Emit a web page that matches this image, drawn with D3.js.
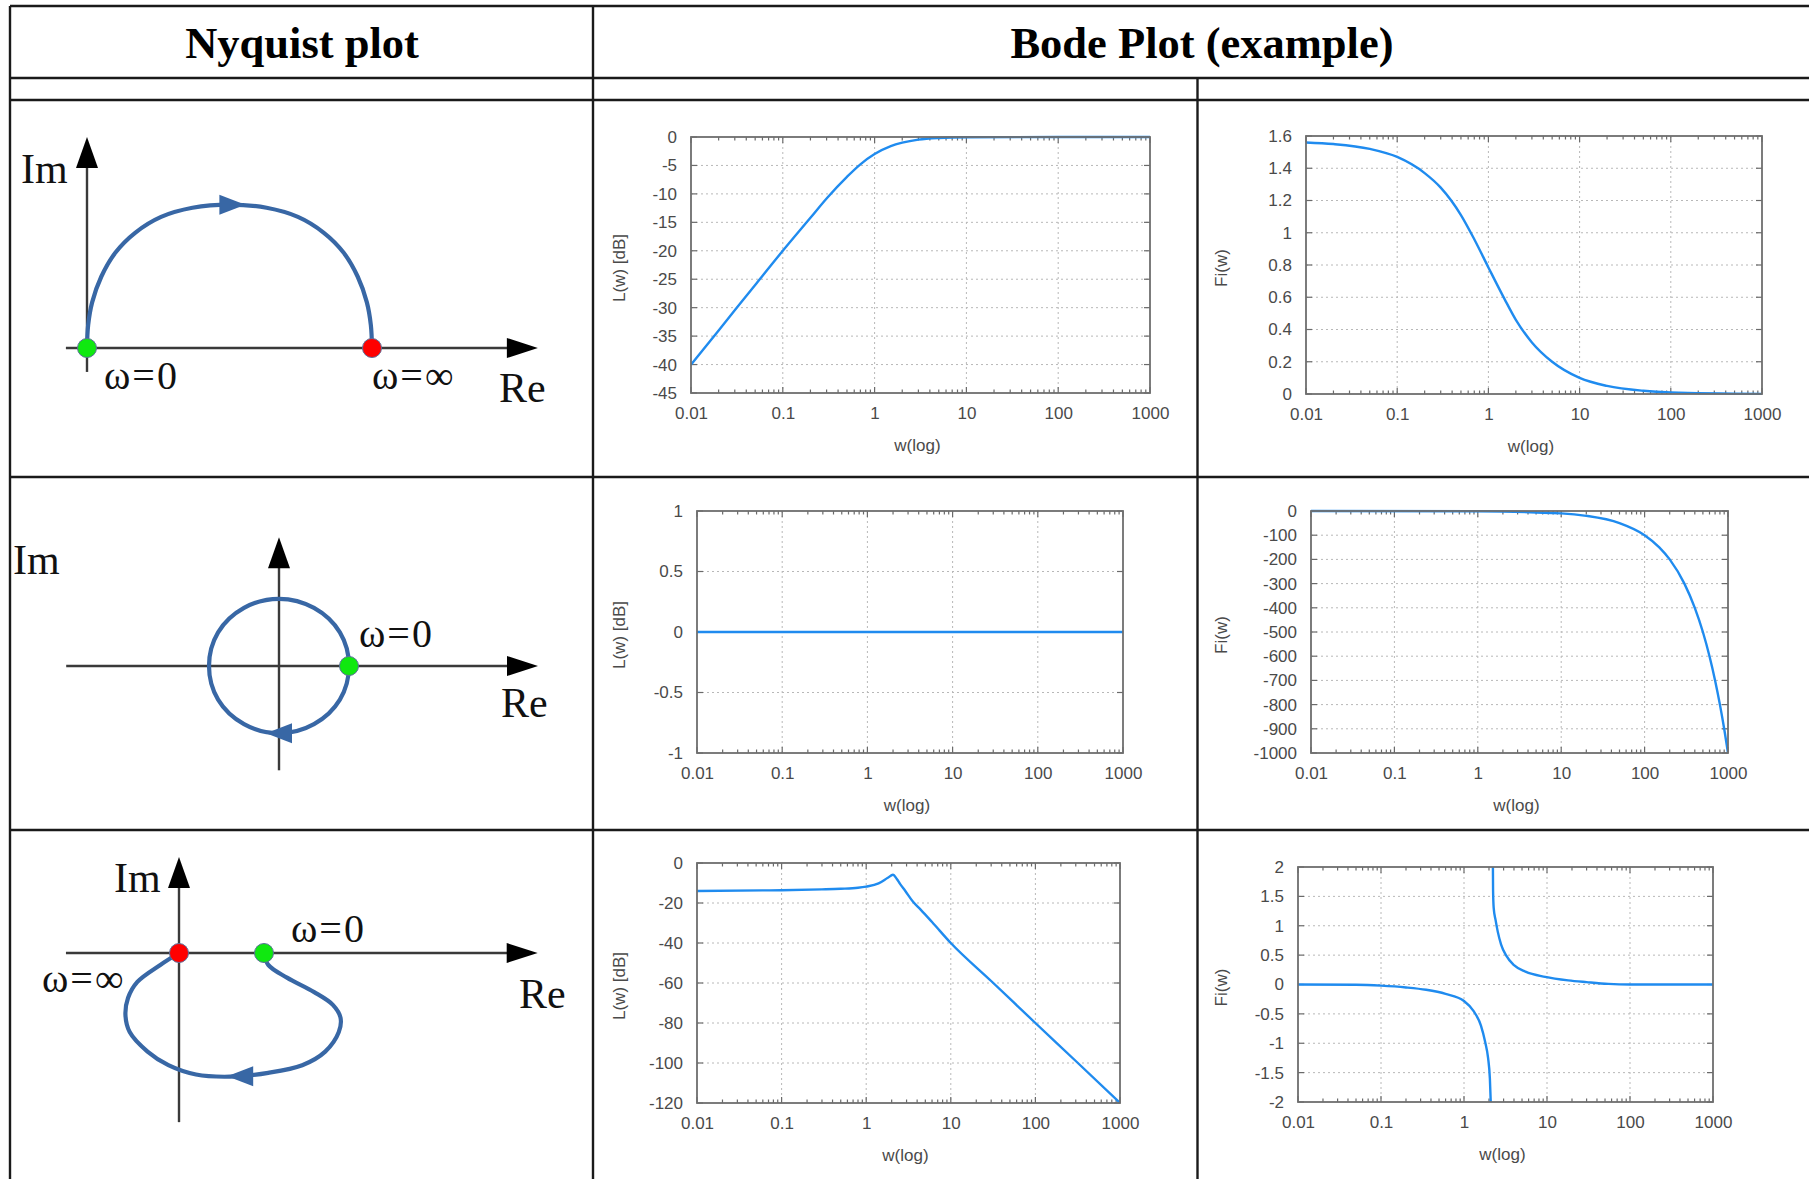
<!DOCTYPE html>
<html><head><meta charset="utf-8">
<script src="https://cdn.jsdelivr.net/npm/d3@7"></script>
<style>body{margin:0;background:#fff}svg{display:block}</style>
</head><body>
<script>
// ================= DATA =================
const headers = ["Nyquist plot", "Bode Plot (example)"];
const decadeTicks = [0.01, 0.1, 1, 10, 100, 1000];
const decadeLabels = ["0.01", "0.1", "1", "10", "100", "1000"];
const xTitle = "w(log)";
const gainTitle = "L(w) [dB]";
const phaseTitle = "Fi(w)";

// Nyquist curves (Re, Im)
const nyq1Re = [0, 0.004, 0.018, 0.05, 0.1, 0.17, 0.26, 0.37, 0.5, 0.63, 0.74, 0.83, 0.9, 0.95, 0.982, 0.996, 1];
const nyq1Im = [0, 0.08, 0.16, 0.25, 0.335, 0.405, 0.46, 0.492, 0.503, 0.492, 0.46, 0.405, 0.335, 0.25, 0.16, 0.08, 0];
const nyq2Re = [1, 0.87, 0.5, 0, -0.5, -0.87, -1, -0.87, -0.5, 0, 0.5, 0.87];
const nyq2Im = [0, -0.48, -0.83, -0.96, -0.83, -0.48, 0, 0.48, 0.83, 0.96, 0.83, 0.48];
const nyq3Re = [1, 1.05, 1.27, 1.59, 1.81, 1.9, 1.88, 1.72, 1.45, 1.05, 0.6, 0.2, -0.125, -0.37, -0.58, -0.63, -0.6, -0.49, -0.22, 0];
const nyq3Im = [0, -0.14, -0.29, -0.46, -0.61, -0.76, -0.93, -1.16, -1.32, -1.41, -1.455, -1.43, -1.32, -1.16, -0.93, -0.73, -0.53, -0.34, -0.14, 0];

// Bode row 1 (high-pass)
const hpGainW = [0.01, 0.02, 0.05, 0.1, 0.2, 0.3, 0.5, 0.7, 1, 1.5, 2, 3, 5, 10, 100, 1000];
const hpGain  = [-40, -34, -26, -20, -14.2, -10.8, -7, -4.8, -3, -1.6, -1, -0.46, -0.17, -0.04, 0, 0];
const hpPhaseW = [0.01, 0.02, 0.05, 0.1, 0.2, 0.3, 0.5, 0.7, 1, 1.5, 2, 3, 5, 10, 20, 50, 100, 1000];
const hpPhase  = [1.56, 1.55, 1.52, 1.47, 1.37, 1.28, 1.11, 0.96, 0.785, 0.59, 0.46, 0.32, 0.2, 0.1, 0.05, 0.02, 0.01, 0.001];

// Bode row 2 (delay)
const delayGainW = [0.01, 1000];
const delayGain  = [0, 0];
const delayPhaseW = [0.01, 1, 10, 20, 50, 100, 150, 200, 300, 400, 500, 600, 700, 800, 900, 1000];
const delayPhase  = [0, -1, -10, -20, -50, -100, -150, -200, -300, -400, -500, -600, -700, -800, -900, -1000];

// Bode row 3 (resonant)
const resGainW = [0.01, 0.06, 0.1, 0.3, 0.5, 0.8, 1, 1.4, 1.8, 2.07, 2.3, 2.5, 2.9, 3.6, 4.4, 6, 10, 30, 100, 300, 1000];
const resGain  = [-14, -13.7, -13.6, -13.2, -12.9, -12.4, -11.8, -10.2, -7.4, -5.9, -8, -10.3, -14, -19.5, -23.3, -29.5, -40, -59, -80, -99, -120];
const resPhaseWA = [0.01, 0.05, 0.1, 0.2, 0.35, 0.6, 1, 1.3, 1.6, 1.8, 1.95, 2.05, 2.1];
const resPhaseA  = [0, -0.005, -0.02, -0.05, -0.09, -0.16, -0.28, -0.45, -0.7, -0.98, -1.25, -1.6, -2];
const resPhaseWB = [2.23, 2.24, 2.28, 2.4, 2.55, 2.8, 3.2, 4, 5.5, 9.5, 18, 30, 55, 100, 1000];
const resPhaseB  = [2, 1.6, 1.3, 1.1, 0.9, 0.68, 0.5, 0.33, 0.22, 0.13, 0.07, 0.04, 0.01, 0, 0];

// Y ticks
const yTicks1 = [0, -5, -10, -15, -20, -25, -30, -35, -40, -45];
const yTicks2 = [0, 0.2, 0.4, 0.6, 0.8, 1, 1.2, 1.4, 1.6];
const yTicks3 = [-1, -0.5, 0, 0.5, 1];
const yTicks4 = [0, -100, -200, -300, -400, -500, -600, -700, -800, -900, -1000];
const yTicks5 = [0, -20, -40, -60, -80, -100, -120];
const yTicks6 = [-2, -1.5, -1, -0.5, 0, 0.5, 1, 1.5, 2];

// ================= DRAW =================
const W = 1809, H = 1179;
const svg = d3.select("body").append("svg").attr("width", W).attr("height", H);
svg.append("rect").attr("width", W).attr("height", H).attr("fill", "#fff");

// ---- table ----
const tbl = svg.append("g").attr("stroke", "#1a1a1a").attr("stroke-width", 2.4);
[6, 78, 100, 477, 830].forEach(yy => tbl.append("line").attr("x1", 10).attr("x2", W).attr("y1", yy).attr("y2", yy));
[[10, 6], [593, 6], [1197.5, 78]].forEach(([xx, y0]) => tbl.append("line").attr("x1", xx).attr("x2", xx).attr("y1", y0).attr("y2", H));

svg.selectAll("text.hdr").data(headers).join("text").attr("class", "hdr")
  .attr("x", (d, i) => i === 0 ? 302 : 1202).attr("y", 58)
  .attr("text-anchor", "middle").attr("font-family", "Liberation Serif").attr("font-weight", "bold")
  .attr("font-size", 44.5).attr("fill", "#000").text(d => d);

// ---- Nyquist panels ----
const curveColor = "#3867a5";
const serif = "Liberation Serif";
const nyqPanels = [
  { ox: 87, oy: 348, unit: 285, re: [-0.074, 1.582], im: [-0.084, 0.74],
    re_: nyq1Re, im_: nyq1Im, closed: false,
    arrow: { re: 0.51, im: 0.503, dir: 0 },
    dots: [{ re: 0, im: 0, c: "#10e810" }, { re: 1, im: 0, c: "#f00" }],
    labels: [{ t: "Im", x: 21, y: 183, s: 42 }, { t: "ω=0", x: 104, y: 389, s: 40 },
             { t: "ω=∞", x: 372, y: 389, s: 40 }, { t: "Re", x: 499, y: 402, s: 42 }] },
  { ox: 279, oy: 666, unit: 70, re: [-3.04, 3.7], im: [-1.49, 1.84],
    re_: nyq2Re, im_: nyq2Im, closed: true,
    arrow: { re: 0, im: -0.96, dir: 180 },
    dots: [{ re: 1, im: 0, c: "#10e810" }],
    labels: [{ t: "Im", x: 13, y: 574, s: 42 }, { t: "ω=0", x: 359, y: 647, s: 40 },
             { t: "Re", x: 501, y: 717, s: 42 }] },
  { ox: 179, oy: 953, unit: 85, re: [-1.33, 4.22], im: [-1.99, 1.13],
    re_: nyq3Re, im_: nyq3Im, closed: false,
    arrow: { re: 0.72, im: -1.45, dir: 180 },
    dots: [{ re: 0, im: 0, c: "#f00" }, { re: 1, im: 0, c: "#10e810" }],
    labels: [{ t: "Im", x: 114, y: 892, s: 42 }, { t: "ω=0", x: 291, y: 942, s: 40 },
             { t: "ω=∞", x: 42, y: 992, s: 40 }, { t: "Re", x: 519, y: 1008, s: 42 }] }
];

nyqPanels.forEach(p => {
  const g = svg.append("g");
  const x = d3.scaleLinear().domain([0, 1]).range([p.ox, p.ox + p.unit]);
  const y = d3.scaleLinear().domain([0, 1]).range([p.oy, p.oy - p.unit]);
  const axisCol = "#3a3a3a";
  // Re axis
  g.append("line").attr("x1", x(p.re[0])).attr("x2", x(p.re[1]) - 20).attr("y1", y(0)).attr("y2", y(0))
    .attr("stroke", axisCol).attr("stroke-width", 2.4);
  const rt = x(p.re[1]);
  g.append("path").attr("d", `M${rt},${y(0)} L${rt - 31},${y(0) - 10} L${rt - 31},${y(0) + 10} Z`).attr("fill", "#000");
  // Im axis
  g.append("line").attr("x1", x(0)).attr("x2", x(0)).attr("y1", y(p.im[0])).attr("y2", y(p.im[1]) + 20)
    .attr("stroke", axisCol).attr("stroke-width", 2.4);
  const it = y(p.im[1]);
  g.append("path").attr("d", `M${x(0)},${it} L${x(0) - 11},${it + 31} L${x(0) + 11},${it + 31} Z`).attr("fill", "#000");
  // curve
  const pts = d3.zip(p.re_, p.im_);
  const line = d3.line().x(d => x(d[0])).y(d => y(d[1]))
    .curve(p.closed ? d3.curveCatmullRomClosed : d3.curveCatmullRom);
  g.append("path").attr("d", line(pts)).attr("fill", "none").attr("stroke", curveColor)
    .attr("stroke-width", 4.2).attr("stroke-linecap", "round");
  // arrow on curve
  const a = p.arrow, ang = a.dir * Math.PI / 180, L = 26, hw = 10;
  const cx = x(a.re), cy = y(a.im);
  const tx = cx + Math.cos(ang) * L / 2, ty = cy + Math.sin(ang) * L / 2;
  const bx = cx - Math.cos(ang) * L / 2, by = cy - Math.sin(ang) * L / 2;
  const px = -Math.sin(ang) * hw, py = Math.cos(ang) * hw;
  g.append("path").attr("d", `M${tx},${ty} L${bx + px},${by + py} L${bx - px},${by - py} Z`).attr("fill", curveColor);
  // dots
  g.selectAll("circle").data(p.dots).join("circle")
    .attr("cx", d => x(d.re)).attr("cy", d => y(d.im)).attr("r", 9.5)
    .attr("fill", d => d.c).attr("stroke", "#5a6f9a").attr("stroke-width", 1);
  // labels
  g.selectAll("text").data(p.labels).join("text")
    .attr("x", d => d.x).attr("y", d => d.y).attr("font-family", serif).attr("font-size", d => d.s)
    .attr("letter-spacing", d => d.t.startsWith("ω") ? 2 : 0).attr("fill", "#111").text(d => d.t);
});

// ---- Bode plots ----
const bodeColor = "#1f8bef";
const sans = "Liberation Sans";
const bodePlots = [
  { left: 691, right: 1150, top: 137, bottom: 393, yd: [-45, 0], yt: yTicks1, title: gainTitle, tx: 619,
    series: [[hpGainW, hpGain]] },
  { left: 1306, right: 1762, top: 136, bottom: 394, yd: [0, 1.6], yt: yTicks2, title: phaseTitle, tx: 1221,
    series: [[hpPhaseW, hpPhase]] },
  { left: 697, right: 1123, top: 511, bottom: 753, yd: [-1, 1], yt: yTicks3, title: gainTitle, tx: 619,
    series: [[delayGainW, delayGain]] },
  { left: 1311, right: 1728, top: 511, bottom: 753, yd: [-1000, 0], yt: yTicks4, title: phaseTitle, tx: 1221,
    series: [[delayPhaseW, delayPhase]] },
  { left: 697, right: 1120, top: 863, bottom: 1103, yd: [-120, 0], yt: yTicks5, title: gainTitle, tx: 619,
    series: [[resGainW, resGain]] },
  { left: 1298, right: 1713, top: 867, bottom: 1102, yd: [-2, 2], yt: yTicks6, title: phaseTitle, tx: 1221,
    series: [[resPhaseWA, resPhaseA], [resPhaseWB, resPhaseB]] }
];

const minorTicks = [];
decadeTicks.slice(0, -1).forEach(d => { for (let k = 2; k <= 9; k++) minorTicks.push(d * k); });

bodePlots.forEach((f, idx) => {
  const g = svg.append("g");
  const x = d3.scaleLog().domain([0.01, 1000]).range([f.left, f.right]);
  const y = d3.scaleLinear().domain(f.yd).range([f.bottom, f.top]);
  // grid
  const grid = g.append("g").attr("stroke", "#b8b8b8").attr("stroke-width", 1).attr("stroke-dasharray", "2,3");
  grid.selectAll("line.v").data(decadeTicks.slice(1, -1)).join("line").attr("class", "v")
    .attr("x1", d => x(d)).attr("x2", d => x(d)).attr("y1", f.top).attr("y2", f.bottom);
  grid.selectAll("line.h").data(f.yt.filter(v => v !== f.yd[0] && v !== f.yd[1])).join("line").attr("class", "h")
    .attr("x1", f.left).attr("x2", f.right).attr("y1", d => y(d)).attr("y2", d => y(d));
  // tick marks (inward)
  const tk = g.append("g").attr("stroke", "#6a6a6a").attr("stroke-width", 1.2);
  [f.top, f.bottom].forEach((yy, j) => {
    const s = j === 0 ? 1 : -1;
    tk.selectAll(null).data(minorTicks).join("line")
      .attr("x1", d => x(d)).attr("x2", d => x(d)).attr("y1", yy).attr("y2", yy + s * 3.5);
    tk.selectAll(null).data(decadeTicks).join("line")
      .attr("x1", d => x(d)).attr("x2", d => x(d)).attr("y1", yy).attr("y2", yy + s * 6);
  });
  [f.left, f.right].forEach((xx, j) => {
    const s = j === 0 ? 1 : -1;
    tk.selectAll(null).data(f.yt).join("line")
      .attr("x1", xx).attr("x2", xx + s * 6).attr("y1", d => y(d)).attr("y2", d => y(d));
  });
  // curves
  const cid = "clip" + idx;
  svg.append("clipPath").attr("id", cid).append("rect")
    .attr("x", f.left).attr("y", f.top - 2).attr("width", f.right - f.left).attr("height", f.bottom - f.top + 4);
  const line = d3.line().x(d => x(d[0])).y(d => y(d[1])).curve(d3.curveMonotoneX);
  f.series.forEach(([w, v]) => {
    g.append("path").attr("d", line(d3.zip(w, v))).attr("fill", "none").attr("stroke", bodeColor)
      .attr("stroke-width", 2.4).attr("clip-path", `url(#${cid})`);
  });
  // frame
  g.append("rect").attr("x", f.left).attr("y", f.top).attr("width", f.right - f.left).attr("height", f.bottom - f.top)
    .attr("fill", "none").attr("stroke", "#6e6e6e").attr("stroke-width", 1.8);
  // axes labels
  const xa = d3.axisBottom(x).tickValues(decadeTicks).tickFormat((d, i) => decadeLabels[i]).tickSize(0).tickPadding(14);
  const gx = g.append("g").attr("transform", `translate(0,${f.bottom})`).call(xa);
  const ya = d3.axisLeft(y).tickValues(f.yt).tickFormat(d => String(d)).tickSize(0).tickPadding(14);
  const gy = g.append("g").attr("transform", `translate(${f.left},0)`).call(ya);
  [gx, gy].forEach(ax => {
    ax.select(".domain").remove();
    ax.attr("font-family", sans).attr("font-size", 17);
    ax.selectAll("text").attr("fill", "#4a4a4a");
  });
  // titles
  g.append("text").attr("x", (f.left + f.right) / 2 - 3).attr("y", f.bottom + 58)
    .attr("text-anchor", "middle").attr("font-family", sans).attr("font-size", 17).attr("fill", "#4a4a4a").text(xTitle);
  g.append("text").attr("transform", `translate(${f.tx},${(f.top + f.bottom) / 2 + 3}) rotate(-90)`)
    .attr("dy", "0.35em").attr("text-anchor", "middle").attr("font-family", sans).attr("font-size", 17)
    .attr("fill", "#4a4a4a").text(f.title);
});
</script>
</body></html>
